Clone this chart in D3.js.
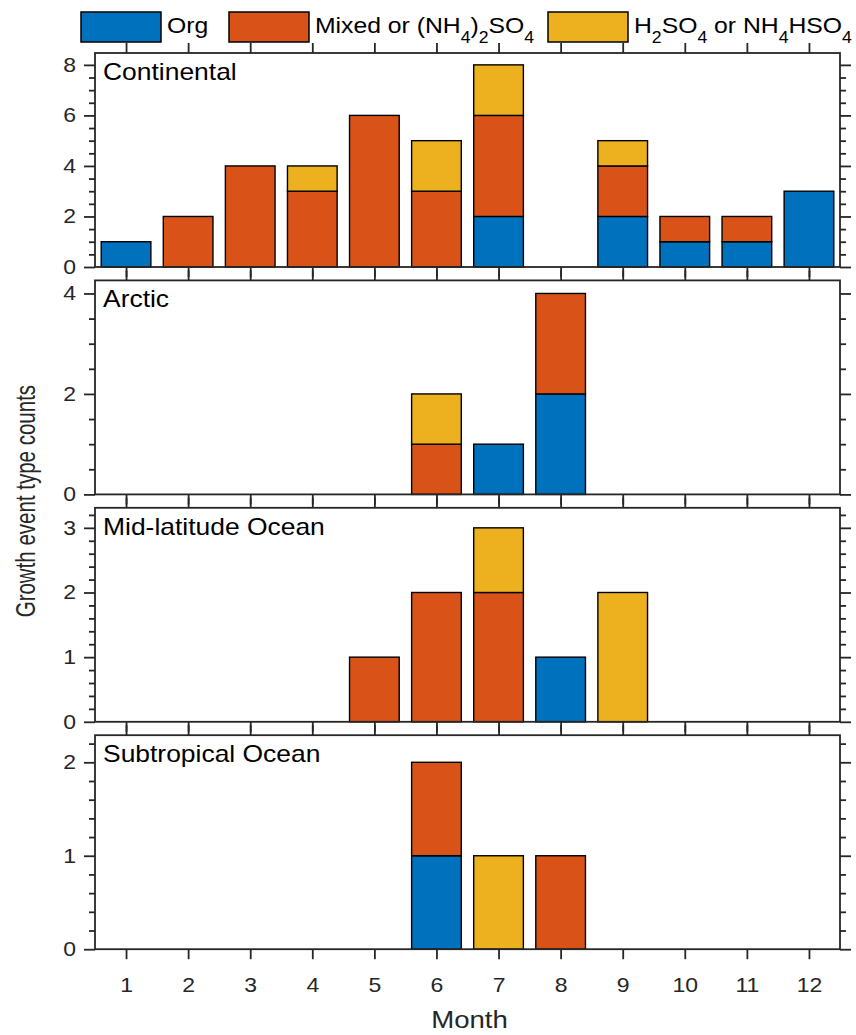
<!DOCTYPE html>
<html>
<head>
<meta charset="utf-8">
<script src="https://cdn.jsdelivr.net/npm/d3@7"></script>
<style>
  body { margin: 0; background: #fff; }
  svg { display: block; }
  text { font-family: "Liberation Sans", Arial, sans-serif; }
</style>
</head>
<body>
<svg id="chart" width="856" height="1035"></svg>
<script>
// ---- data ----
const months = [1, 2, 3, 4, 5, 6, 7, 8, 9, 10, 11, 12];
const typeKeys = ["org", "mixed", "acid"];
const typeColors = ["#0072BD", "#D95319", "#EDB120"];
const regionNames = ["Continental", "Arctic", "Mid-latitude Ocean", "Subtropical Ocean"];

const continentalOrg   = [1, 0, 0, 0, 0, 0, 2, 0, 2, 1, 1, 3];
const continentalMixed = [0, 2, 4, 3, 6, 3, 4, 0, 2, 1, 1, 0];
const continentalAcid  = [0, 0, 0, 1, 0, 2, 2, 0, 1, 0, 0, 0];
const arcticOrg        = [0, 0, 0, 0, 0, 0, 1, 2, 0, 0, 0, 0];
const arcticMixed      = [0, 0, 0, 0, 0, 1, 0, 2, 0, 0, 0, 0];
const arcticAcid       = [0, 0, 0, 0, 0, 1, 0, 0, 0, 0, 0, 0];
const midlatOrg        = [0, 0, 0, 0, 0, 0, 0, 1, 0, 0, 0, 0];
const midlatMixed      = [0, 0, 0, 0, 1, 2, 2, 0, 0, 0, 0, 0];
const midlatAcid       = [0, 0, 0, 0, 0, 0, 1, 0, 2, 0, 0, 0];
const subtropOrg       = [0, 0, 0, 0, 0, 1, 0, 0, 0, 0, 0, 0];
const subtropMixed     = [0, 0, 0, 0, 0, 1, 0, 1, 0, 0, 0, 0];
const subtropAcid      = [0, 0, 0, 0, 0, 0, 1, 0, 0, 0, 0, 0];

// axis limits per panel
const yLimits = [8.47, 4.26, 3.31, 2.29];
const yMajorSteps = [2, 2, 1, 1];
const yMinorSteps = [0.5, 0.5, 0.2, 0.2];

// legend labels, pieces flagged 1 are subscripts
const legendLabels = [
  [["Org", 0]],
  [["Mixed or (NH", 0], ["4", 1], [")", 0], ["2", 1], ["SO", 0], ["4", 1]],
  [["H", 0], ["2", 1], ["SO", 0], ["4", 1], [" or NH", 0], ["4", 1], ["HSO", 0], ["4", 1]]
];

const regionSeries = [
  [continentalOrg, continentalMixed, continentalAcid],
  [arcticOrg, arcticMixed, arcticAcid],
  [midlatOrg, midlatMixed, midlatAcid],
  [subtropOrg, subtropMixed, subtropAcid]
];

// ---- layout ----
const SX = 1.15;            // the reference text is a bit wide
const axisColor = "#262626";
const left = 95, right = 840;
const panelTop = 53, panelStep = 227.4, panelH = 214;

const svg = d3.select("#chart");

const x = d3.scaleLinear().domain([0.5, 12.5]).range([left, right]);
const barW = (x(2) - x(1)) * 0.8;

function tickRange(max, step) {
  const n = Math.floor(max / step + 1e-9);
  return d3.range(n + 1).map(k => +(k * step).toFixed(3));
}

function styleAxis(g, width) {
  g.select(".domain").remove();
  g.selectAll("line").attr("stroke", axisColor).attr("stroke-width", width);
}

regionNames.forEach((name, i) => {
  const top = panelTop + i * panelStep;
  const bottom = top + panelH;
  const y = d3.scaleLinear().domain([0, yLimits[i]]).range([bottom, top]);

  const rows = months.map((m, j) => ({
    month: m,
    org: regionSeries[i][0][j],
    mixed: regionSeries[i][1][j],
    acid: regionSeries[i][2][j]
  }));
  const stacked = d3.stack().keys(typeKeys)(rows);

  const panel = svg.append("g").attr("class", "panel");

  // bars
  panel.selectAll("g.layer")
    .data(stacked).enter()
    .append("g")
    .attr("class", "layer")
    .attr("fill", (d, k) => typeColors[k])
    .selectAll("rect")
    .data(d => d.filter(s => s[1] - s[0] > 0))
    .enter()
    .append("rect")
    .attr("x", d => x(d.data.month) - barW / 2)
    .attr("width", barW)
    .attr("y", d => y(d[1]))
    .attr("height", d => y(d[0]) - y(d[1]))
    .attr("stroke", "#000")
    .attr("stroke-width", 1.4);

  const majors = tickRange(yLimits[i], yMajorSteps[i]);
  const minors = tickRange(yLimits[i], yMinorSteps[i]).filter(v => !majors.some(m => Math.abs(m - v) < 1e-6));

  // left axis
  const pad = 8;
  const gl = panel.append("g").attr("transform", `translate(${left},0)`)
    .call(d3.axisLeft(y).tickValues(majors).tickSize(11).tickPadding(pad).tickFormat(d3.format("d")));
  styleAxis(gl, 1.8);
  gl.selectAll("text")
    .attr("fill", axisColor)
    .style("font-size", "20px")
    .attr("x", -(11 + pad) / SX)
    .attr("transform", `scale(${SX},1)`);
  const glm = panel.append("g").attr("transform", `translate(${left},0)`)
    .call(d3.axisLeft(y).tickValues(minors).tickSize(6).tickFormat(""));
  styleAxis(glm, 1.8);

  // right axis
  const gr = panel.append("g").attr("transform", `translate(${right},0)`)
    .call(d3.axisRight(y).tickValues(majors).tickSize(11).tickFormat(""));
  styleAxis(gr, 1.8);
  const grm = panel.append("g").attr("transform", `translate(${right},0)`)
    .call(d3.axisRight(y).tickValues(minors).tickSize(6).tickFormat(""));
  styleAxis(grm, 1.8);

  // top and bottom month ticks
  const gt = panel.append("g").attr("transform", `translate(0,${top})`)
    .call(d3.axisTop(x).tickValues(months).tickSize(10).tickFormat(""));
  styleAxis(gt, 1.8);
  const gb = panel.append("g").attr("transform", `translate(0,${bottom})`)
    .call(d3.axisBottom(x).tickValues(months).tickSize(10).tickPadding(19)
      .tickFormat(i === regionNames.length - 1 ? d3.format("d") : ""));
  styleAxis(gb, 1.8);
  gb.selectAll("text")
    .attr("fill", axisColor)
    .style("font-size", "20px")
    .attr("transform", `scale(${SX},1)`);

  // box
  panel.append("rect")
    .attr("x", left).attr("y", top)
    .attr("width", right - left).attr("height", panelH)
    .attr("fill", "none")
    .attr("stroke", axisColor)
    .attr("stroke-width", 1.8);

  // panel label
  panel.append("text")
    .attr("transform", `translate(${left + 8},${top + 27}) scale(${SX},1)`)
    .style("font-size", "23px")
    .attr("fill", "#000")
    .text(name);
});

// axis labels
svg.append("text")
  .attr("transform", `translate(35,${(panelTop + panelTop + 3 * panelStep + panelH) / 2}) scale(1.32,1) rotate(-90)`)
  .attr("text-anchor", "middle")
  .style("font-size", "20.5px")
  .attr("fill", axisColor)
  .text("Growth event type counts");

svg.append("text")
  .attr("transform", `translate(${(left + right) / 2 + 2},1028) scale(${SX},1)`)
  .attr("text-anchor", "middle")
  .style("font-size", "24px")
  .attr("fill", axisColor)
  .text("Month");

// legend
const legendX = [81, 229, 548];
const legend = svg.append("g").attr("class", "legend");
legendLabels.forEach((parts, k) => {
  legend.append("rect")
    .attr("x", legendX[k]).attr("y", 12)
    .attr("width", 80).attr("height", 30)
    .attr("fill", typeColors[k])
    .attr("stroke", "#000")
    .attr("stroke-width", 1.5);
  const t = legend.append("text")
    .attr("transform", `translate(${legendX[k] + 86},33) scale(1.1,1)`)
    .style("font-size", "22.5px")
    .style("white-space", "pre")
    .attr("fill", "#000");
  let shifted = false;
  parts.forEach(([s, sub]) => {
    const ts = t.append("tspan").text(s);
    if (sub) {
      ts.style("font-size", "16px").attr("dy", shifted ? 0 : 10);
      shifted = true;
    } else {
      ts.attr("dy", shifted ? -10 : 0);
      shifted = false;
    }
  });
});
</script>
</body>
</html>
